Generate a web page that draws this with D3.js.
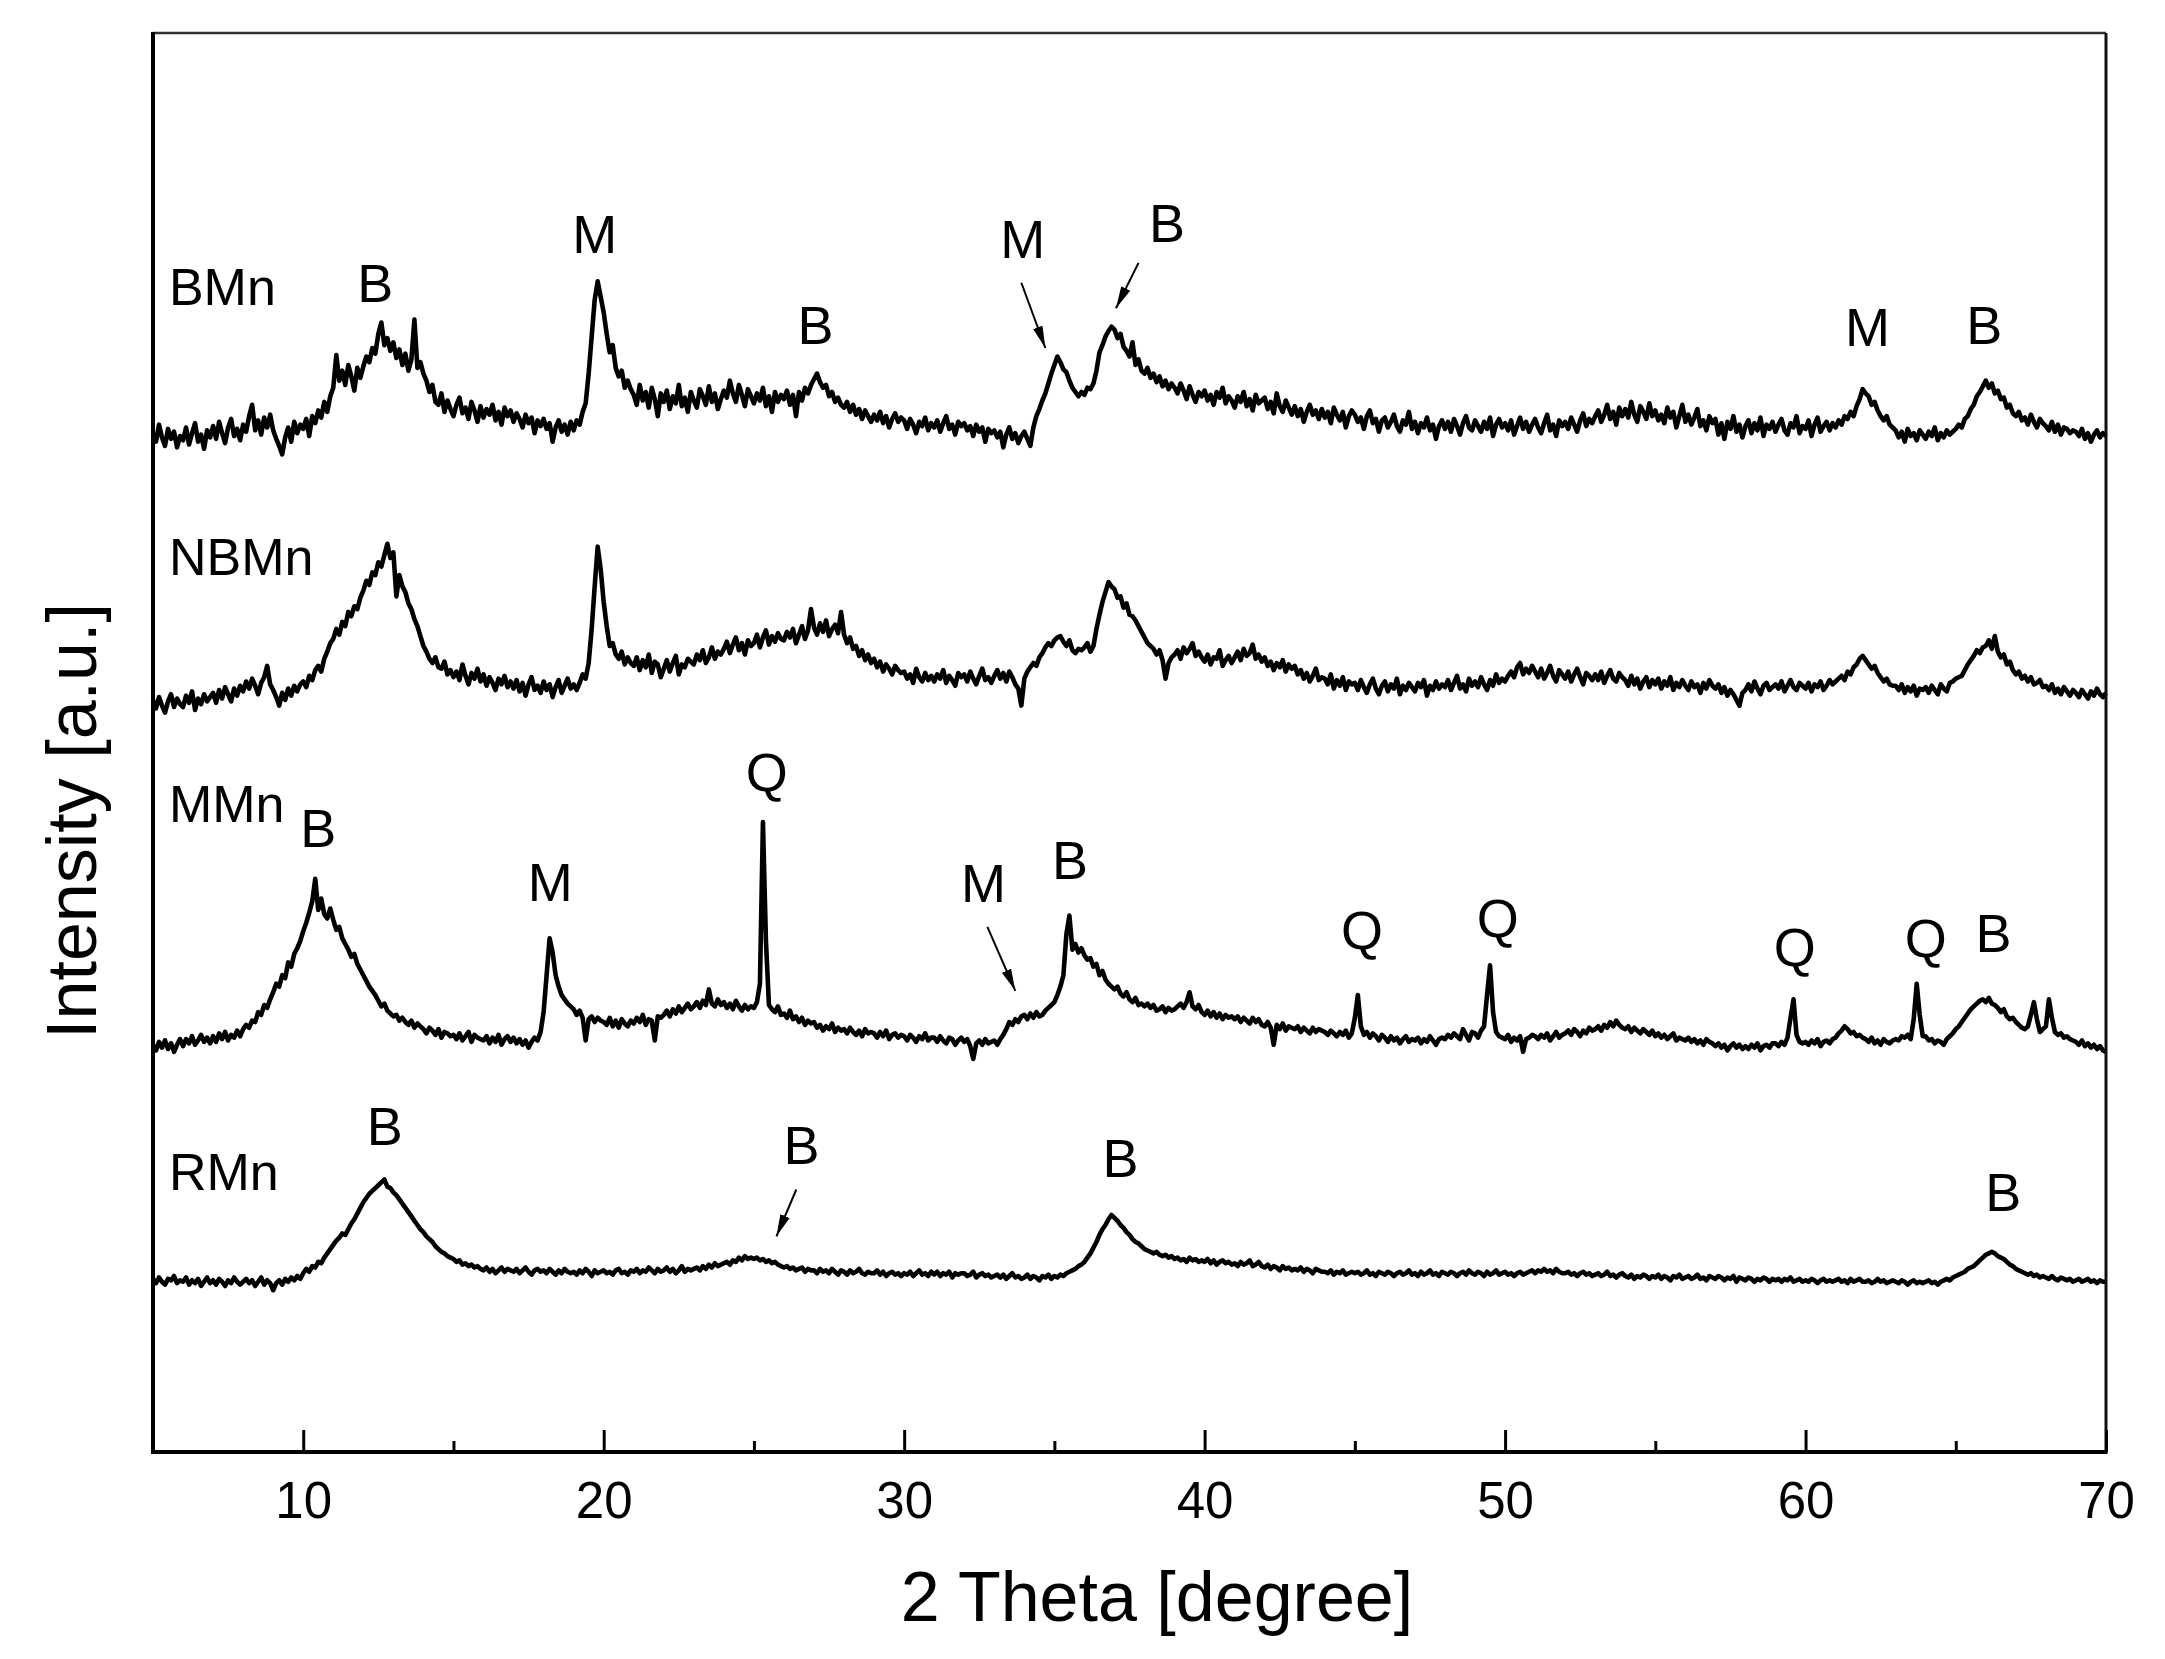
<!DOCTYPE html>
<html>
<head>
<meta charset="utf-8">
<script src="https://cdn.jsdelivr.net/npm/d3@7"></script>
<style>
  body { margin: 0; background: #fff; }
  text { font-family: "Liberation Sans", Arial, Helvetica, sans-serif; fill: #000; }
</style>
</head>
<body>
<svg id="chart" width="2165" height="1659"></svg>
<script>
// 2theta grid: 5.0 .. 70.0 deg, step 0.1 (one row = one degree)
const thetaStart = 5;
const thetaStep = 0.1;

const bmn = [
  18,12,24,15,9,21,14,19,8,16,
  13,22,10,18,25,12,17,7,20,15,
  23,14,26,18,11,22,28,16,21,13,
  24,19,30,38,20,27,17,29,22,31,
  20,14,9,3,15,22,12,26,18,24,
  21,28,16,30,25,34,29,40,33,44,
  50,73,55,62,52,66,58,48,64,57,
  65,72,68,78,74,88,96,80,85,76,
  82,71,77,66,74,62,70,98,64,68,
  60,55,47,52,40,38,46,33,41,35,
  30,38,43,32,36,28,40,34,26,37,
  29,35,31,38,27,33,24,36,30,34,
  26,32,28,22,31,25,29,18,27,23,
  28,21,25,12,22,27,19,24,17,26,
  20,27,24,33,39,60,86,112,125,114,
  103,88,75,80,64,58,62,50,55,49,
  45,38,52,41,47,36,50,42,30,46,
  40,48,35,44,39,52,37,43,33,47,
  41,36,49,44,38,51,40,46,35,42,
  48,43,55,46,40,52,45,37,49,44,
  39,46,41,50,37,44,33,47,40,45,
  42,48,38,45,30,47,41,50,46,52,
  56,60,54,50,52,44,47,40,43,38,
  36,40,33,38,31,35,28,34,30,26,
  31,27,33,25,30,22,28,32,26,29,
  27,21,28,24,18,26,23,29,20,25,
  22,27,19,25,30,21,24,17,26,23,
  25,20,23,16,24,19,22,12,21,18,
  20,15,19,8,17,22,14,18,11,16,
  19,14,9,22,30,35,41,46,53,60,
  66,72,68,63,61,55,50,47,44,47,
  45,50,49,53,62,75,80,86,90,93,
  91,85,88,79,76,72,82,66,70,62,
  60,64,57,60,54,58,51,55,49,53,
  50,46,53,48,42,51,45,40,47,44,
  48,41,45,38,47,43,50,39,44,41,
  36,44,40,47,37,42,34,45,39,41,
  43,35,40,32,46,37,33,41,36,31,
  37,30,35,26,33,38,31,34,28,35,
  29,33,25,36,31,27,33,22,30,34,
  31,26,29,21,30,34,25,28,19,27,
  29,22,26,31,23,19,27,24,33,21,
  26,18,25,22,29,20,24,14,23,27,
  21,26,19,28,23,17,25,30,22,20,
  27,23,19,26,21,29,16,24,28,22,
  25,20,27,17,23,29,21,26,19,24,
  28,22,18,25,31,20,24,16,27,23,
  26,21,29,24,19,27,32,23,28,25,
  30,34,26,31,38,28,33,24,36,30,
  35,29,40,31,26,37,33,28,39,30,
  34,27,31,25,36,29,33,22,30,38,
  26,31,24,29,35,23,27,20,30,25,
  28,17,25,14,26,21,30,19,24,15,
  23,27,18,25,20,29,16,24,21,26,
  19,24,28,20,17,25,22,30,18,23,
  21,27,16,24,29,19,23,26,20,25,
  22,27,24,30,28,33,30,37,42,49,
  46,44,38,40,34,30,27,30,24,22,
  20,15,19,12,21,16,18,13,20,17,
  14,19,16,22,13,18,15,20,17,19,
  21,24,22,28,30,35,38,44,47,51,
  55,50,53,46,48,42,43,36,38,32,
  30,33,27,29,24,31,26,22,28,25,
  23,20,26,19,24,17,22,21,18,20,
  19,16,21,14,18,12,17,20,15,18,
  16
];

const nbmn = [
  20,14,22,16,11,19,24,15,21,17,
  15,23,18,26,13,21,17,24,19,22,
  25,18,27,21,29,24,19,28,23,30,
  26,33,28,35,30,24,32,36,44,31,
  27,22,16,25,20,28,23,30,26,31,
  33,29,37,34,41,44,40,49,54,60,
  63,70,66,75,72,82,79,86,84,92,
  97,104,101,110,108,117,114,122,130,120,
  124,93,108,100,96,88,84,77,72,65,
  58,54,49,46,50,43,42,47,38,41,
  36,40,34,45,37,31,39,35,42,33,
  38,30,36,32,27,35,31,37,29,33,
  28,34,26,32,23,31,36,27,30,25,
  33,27,31,22,29,34,25,30,35,28,
  31,27,32,38,35,46,70,100,128,112,
  89,72,58,60,52,49,54,45,50,46,
  44,50,41,48,43,52,39,47,45,36,
  42,48,40,46,51,38,45,43,49,47,
  45,52,48,55,46,50,57,49,54,52,
  56,61,53,59,64,55,60,52,62,58,
  60,66,57,64,69,59,65,61,67,63,
  62,68,64,70,60,66,72,63,69,84,
  71,66,74,68,76,65,70,73,67,82,
  66,60,64,56,58,51,55,48,52,46,
  49,43,47,40,45,42,38,44,41,39,
  40,35,38,32,42,36,33,39,34,37,
  33,38,35,41,32,37,34,30,39,36,
  38,33,40,35,31,37,42,34,36,32,
  37,41,35,39,33,40,36,31,28,16,
  35,40,43,46,44,50,53,57,60,58,
  62,64,65,61,58,62,55,53,56,55,
  57,60,54,58,70,80,89,96,103,100,
  98,92,93,85,88,80,79,76,72,68,
  64,60,58,56,52,55,48,35,46,50,
  52,55,49,57,53,56,60,51,54,50,
  47,52,45,50,49,55,44,48,51,46,
  50,54,48,56,51,53,59,49,52,47,
  50,44,47,41,46,43,48,40,45,42,
  44,38,41,35,39,33,37,42,34,36,
  35,31,38,28,34,30,36,27,33,31,
  32,27,34,29,25,31,35,28,24,30,
  33,26,31,28,35,24,30,27,32,29,
  26,32,29,34,23,30,27,33,28,31,
  29,34,27,32,37,28,31,26,35,30,
  33,29,36,31,27,34,30,38,32,35,
  33,37,40,36,43,46,38,42,39,44,
  40,36,42,35,39,44,37,33,41,38,
  35,40,33,38,42,36,31,39,37,34,
  38,34,40,32,37,41,35,33,39,36,
  34,30,37,31,35,28,33,36,29,34,
  31,35,28,33,30,36,27,32,29,34,
  30,27,33,29,31,25,32,28,34,30,
  28,31,25,29,23,27,24,20,16,25,
  27,31,26,33,28,24,30,32,27,29,
  31,28,33,26,30,34,29,27,32,30,
  28,32,26,31,29,33,27,30,34,31,
  33,35,37,34,40,38,43,45,49,51,
  48,45,42,44,39,36,33,35,31,30,
  30,27,31,25,29,26,30,23,28,27,
  29,25,30,27,24,31,28,26,32,33,
  35,36,37,41,45,48,51,55,53,57,
  58,62,56,65,54,50,52,45,47,41,
  38,40,35,37,33,36,31,32,34,29,
  30,27,31,25,28,24,29,26,23,27,
  25,22,27,24,21,26,23,28,24,22,
  25
];

const mmn = [
  17,13,19,15,20,14,18,12,17,21,
  16,21,18,23,17,20,24,19,22,18,
  23,19,25,21,26,20,24,22,27,23,
  28,31,29,34,33,40,38,45,43,49,
  54,60,58,66,64,75,72,81,85,90,
  97,103,110,118,134,112,120,109,106,113,
  105,98,100,92,88,84,79,81,74,70,
  66,62,58,55,52,48,44,46,41,39,
  37,38,34,36,33,31,34,29,32,30,
  28,25,29,27,24,28,22,26,25,23,
  24,21,25,20,23,26,19,24,22,21,
  20,23,18,22,19,24,17,21,23,19,
  22,18,21,17,20,15,19,22,20,26,
  40,66,92,82,66,58,52,49,46,44,
  42,38,41,36,20,35,37,33,36,34,
  33,31,36,30,34,29,35,32,30,34,
  32,36,33,38,31,35,34,20,37,36,
  38,41,37,42,39,44,40,43,46,42,
  44,47,43,48,45,56,46,44,49,45,
  47,43,46,42,48,44,41,45,42,44,
  43,47,60,174,90,45,42,40,44,38,
  39,36,41,35,37,33,36,31,34,32,
  33,29,31,27,30,28,32,26,29,27,
  28,25,29,26,24,27,23,28,25,26,
  25,22,26,23,27,21,24,25,22,24,
  23,20,24,22,19,23,21,25,20,22,
  22,19,23,20,18,22,21,17,20,22,
  19,21,16,7,18,20,17,21,18,19,
  20,17,21,24,28,33,31,35,33,37,
  38,35,39,36,40,37,38,41,43,45,
  47,52,58,66,95,108,84,88,82,85,
  80,77,78,72,74,66,69,63,60,58,
  56,58,53,51,54,49,47,50,45,46,
  44,46,43,45,41,42,44,40,43,41,
  42,44,46,43,47,54,44,42,45,40,
  38,41,37,40,36,39,35,38,36,37,
  35,37,33,36,34,32,36,33,35,31,
  30,33,29,17,31,28,32,27,30,29,
  28,30,26,29,27,25,29,26,28,27,
  26,24,27,25,23,26,24,27,22,25,
  36,52,30,24,26,22,25,23,20,24,
  22,19,23,20,22,18,21,23,19,21,
  20,22,18,21,19,23,20,17,21,22,
  21,24,22,25,23,21,28,24,20,26,
  25,22,27,30,52,73,40,26,23,22,
  21,24,19,22,20,23,12,21,22,24,
  23,21,24,22,25,20,23,26,22,24,
  25,27,24,28,26,23,27,25,29,27,
  28,30,27,31,29,33,30,34,31,29,
  28,30,26,29,27,25,28,26,24,27,
  23,25,22,24,21,23,25,20,22,21,
  20,22,19,21,18,20,17,21,19,18,
  16,18,15,17,13,16,18,15,17,14,
  16,14,17,15,18,13,16,17,15,18,
  18,16,19,17,22,36,49,24,19,18,
  19,17,20,18,21,16,19,20,18,21,
  22,25,27,30,28,25,26,23,24,22,
  21,19,22,18,20,17,21,19,18,20,
  21,20,23,22,24,21,35,60,38,23,
  23,20,21,18,20,19,17,21,23,25,
  28,30,33,36,39,42,44,46,48,49,
  47,50,46,45,43,40,42,37,35,36,
  33,31,29,28,30,38,47,35,26,28,
  30,49,36,26,24,25,22,23,21,20,
  19,17,20,16,18,15,17,14,16,13,
  12
];

const rmn = [
  12,9,13,10,8,12,11,14,9,11,
  10,13,8,11,9,12,7,10,13,9,
  11,8,12,10,7,11,9,13,10,8,
  10,12,9,11,7,10,13,8,11,9,
  4,9,11,8,12,10,13,11,14,12,
  16,19,17,21,20,24,23,27,30,33,
  36,39,41,44,43,47,51,54,58,62,
  66,69,72,74,76,78,80,82,77,76,
  73,71,68,65,62,59,56,53,50,47,
  45,42,40,38,35,33,31,30,28,27,
  26,24,25,22,23,21,22,20,21,19,
  18,20,17,19,16,18,20,17,19,18,
  17,19,16,18,20,17,15,18,19,17,
  18,16,19,17,15,18,16,19,17,16,
  17,15,18,16,19,17,14,18,16,17,
  18,16,17,15,18,19,16,17,15,18,
  17,19,16,18,17,20,18,16,19,17,
  18,20,17,19,16,18,21,17,19,18,
  19,20,18,21,19,22,20,23,21,22,
  23,24,22,25,24,27,25,28,26,27,
  26,27,25,26,24,25,23,24,22,21,
  20,21,19,20,18,19,20,17,19,18,
  18,16,19,17,18,16,19,17,15,18,
  17,15,18,16,17,19,16,15,17,16,
  16,18,15,17,14,16,17,15,16,14,
  16,15,17,14,16,18,15,16,14,17,
  15,17,14,16,15,17,13,16,15,16,
  16,14,15,17,13,15,16,14,15,13,
  14,15,13,15,12,14,16,13,14,12,
  13,15,12,14,13,11,14,13,15,12,
  14,13,15,14,16,17,18,19,21,22,
  24,27,30,34,38,43,47,50,54,57,
  55,53,50,48,45,43,40,38,37,35,
  33,32,31,30,31,29,28,29,27,28,
  26,27,25,26,24,27,25,26,24,25,
  24,26,23,25,22,24,25,23,24,22,
  23,21,24,22,23,25,21,22,24,21,
  20,22,19,21,20,18,21,19,20,18,
  19,18,20,17,19,18,16,19,18,17,
  17,16,18,15,17,16,18,15,16,17,
  16,17,15,16,18,15,16,14,17,16,
  15,17,16,14,16,17,15,16,18,15,
  16,14,17,15,16,18,15,16,14,17,
  16,15,17,16,14,16,17,15,18,16,
  15,17,16,14,17,15,16,18,15,16,
  17,15,16,14,16,17,15,16,17,18,
  16,18,17,19,17,18,16,19,17,16,
  16,17,15,16,14,16,17,15,16,14,
  15,16,14,15,17,14,15,13,15,16,
  14,13,15,12,14,13,15,14,12,14,
  13,15,12,14,13,11,14,13,15,12,
  13,14,12,13,15,12,13,11,14,13,
  12,14,13,11,13,12,14,10,13,12,
  11,13,12,10,12,11,13,12,10,12,
  11,12,10,12,11,13,10,11,12,10,
  11,10,12,11,9,11,12,10,11,10,
  11,12,10,11,9,12,10,11,12,10,
  10,11,9,10,12,10,11,9,10,11,
  10,9,11,10,8,10,11,9,10,9,
  10,11,9,10,8,10,11,12,11,13,
  14,15,16,17,19,20,21,23,25,27,
  29,30,31,30,28,27,26,24,22,21,
  19,18,17,16,15,16,14,15,13,14,
  13,12,14,12,11,13,12,11,12,10,
  11,12,10,11,12,10,11,9,11,10,
  10
];

const seriesNames = ["BMn", "NBMn", "MMn", "RMn"];
const seriesData = [bmn, nbmn, mmn, rmn];
const seriesOffsets = [700, 510, 270, 110];
const seriesLabelY = [821, 631, 457, 197];

const peakLabels = [
  {text: "B", x: 12.4, y: 824}, {text: "M", x: 19.7, y: 858}, {text: "B", x: 27.05, y: 794},
  {text: "M", x: 33.95, y: 855}, {text: "B", x: 38.75, y: 866}, {text: "M", x: 62.06, y: 793},
  {text: "B", x: 65.95, y: 794},
  {text: "B", x: 10.5, y: 440}, {text: "M", x: 18.22, y: 402}, {text: "Q", x: 25.43, y: 479},
  {text: "M", x: 32.64, y: 401}, {text: "B", x: 35.52, y: 417}, {text: "Q", x: 45.24, y: 368},
  {text: "Q", x: 49.76, y: 376}, {text: "Q", x: 59.64, y: 356}, {text: "Q", x: 64.0, y: 362},
  {text: "B", x: 66.26, y: 366},
  {text: "B", x: 12.71, y: 230}, {text: "B", x: 26.58, y: 216}, {text: "B", x: 37.2, y: 207},
  {text: "B", x: 66.58, y: 183}
];

const arrows = [
  {x1: 33.9, y1: 824, x2: 34.7, y2: 778},
  {x1: 37.8, y1: 838, x2: 37.05, y2: 806},
  {x1: 32.77, y1: 370, x2: 33.7, y2: 325},
  {x1: 26.41, y1: 185, x2: 25.75, y2: 152}
];

const majorTicks = [10, 20, 30, 40, 50, 60, 70];
const minorTicks = [15, 25, 35, 45, 55, 65];

const svg = d3.select("#chart");
const plotLeft = 153, plotRight = 2106, plotTop = 33, plotBottom = 1452;

const x = d3.scaleLinear().domain([5, 70]).range([plotLeft, plotRight]);
const y = d3.scaleLinear().domain([0, 1000]).range([plotBottom, plotTop]);

// traces
const line = d3.line()
  .x((d, i) => x(thetaStart + i * thetaStep))
  .y(d => y(d));

seriesData.forEach((values, k) => {
  svg.append("path")
    .datum(values.map(v => v + seriesOffsets[k]))
    .attr("d", line)
    .attr("fill", "none")
    .attr("stroke", "#000")
    .attr("stroke-width", 4.6)
    .attr("stroke-linejoin", "round");
});

// series names
svg.selectAll(".sname").data(seriesNames).enter().append("text")
  .attr("x", x(5.53))
  .attr("y", (d, i) => y(seriesLabelY[i]))
  .attr("dominant-baseline", "central")
  .attr("font-size", 52)
  .text(d => d);

// peak letters
svg.selectAll(".peak").data(peakLabels).enter().append("text")
  .attr("x", d => x(d.x))
  .attr("y", d => y(d.y))
  .attr("text-anchor", "middle")
  .attr("dominant-baseline", "central")
  .attr("font-size", 54)
  .text(d => d.text);

// arrows
svg.append("defs").append("marker")
  .attr("id", "head")
  .attr("markerUnits", "userSpaceOnUse")
  .attr("markerWidth", 24).attr("markerHeight", 12)
  .attr("refX", 22).attr("refY", 6)
  .attr("orient", "auto")
  .append("path").attr("d", "M0,1 L22,6 L0,11 Z").attr("fill", "#000");

svg.selectAll(".arrow").data(arrows).enter().append("line")
  .attr("x1", d => x(d.x1)).attr("y1", d => y(d.y1))
  .attr("x2", d => x(d.x2)).attr("y2", d => y(d.y2))
  .attr("stroke", "#000").attr("stroke-width", 2)
  .attr("marker-end", "url(#head)");

// frame
svg.append("line").attr("x1", plotLeft).attr("x2", plotRight).attr("y1", plotTop).attr("y2", plotTop)
  .attr("stroke", "#333").attr("stroke-width", 2.5);
svg.append("line").attr("x1", plotRight).attr("x2", plotRight).attr("y1", plotTop).attr("y2", plotBottom)
  .attr("stroke", "#111").attr("stroke-width", 3);
svg.append("line").attr("x1", plotLeft).attr("x2", plotLeft).attr("y1", plotTop - 1).attr("y2", plotBottom + 2)
  .attr("stroke", "#000").attr("stroke-width", 4);

// x axis
const xAxis = d3.axisBottom(x).tickValues(majorTicks).tickSize(-22).tickSizeOuter(0);
const gx = svg.append("g").attr("transform", `translate(0,${plotBottom})`).call(xAxis);
gx.select(".domain").attr("stroke-width", 4).attr("d", `M${plotLeft - 2},0H${plotRight + 1.5}`);
gx.selectAll(".tick line").attr("stroke-width", 3);
gx.selectAll(".tick text")
  .attr("y", 48).attr("dy", "0.35em")
  .attr("font-size", 51)
  .attr("font-family", "'Liberation Sans Narrow', 'Liberation Sans', Arial, sans-serif");

const xMinorAxis = d3.axisBottom(x).tickValues(minorTicks).tickSize(-11).tickFormat("");
const gm = svg.append("g").attr("transform", `translate(0,${plotBottom})`).call(xMinorAxis);
gm.select(".domain").remove();
gm.selectAll(".tick line").attr("stroke-width", 3);

// axis titles
svg.append("text")
  .attr("x", 1157).attr("y", 1597)
  .attr("text-anchor", "middle").attr("dominant-baseline", "central")
  .attr("font-size", 70)
  .text("2 Theta [degree]");

svg.append("text")
  .attr("transform", "translate(72,821) rotate(-90)")
  .attr("text-anchor", "middle").attr("dominant-baseline", "central")
  .attr("font-size", 70)
  .text("Intensity [a.u.]");
</script>
</body>
</html>
